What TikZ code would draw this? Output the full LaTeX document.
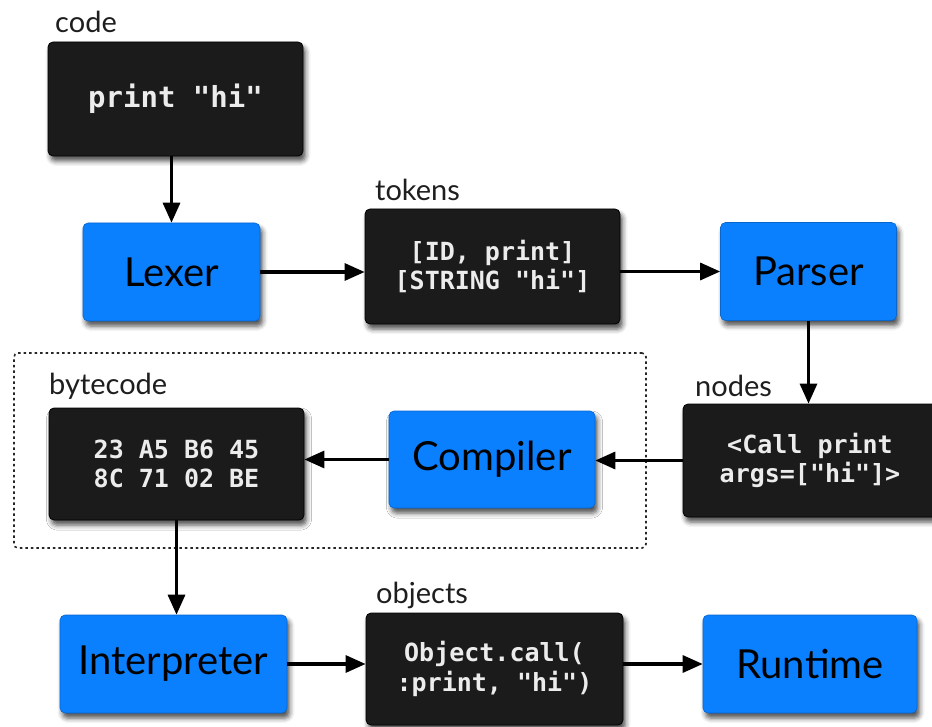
\documentclass[tikz,border=0pt]{standalone}
\usepackage{fontspec}
\setmainfont{Lato}
\newfontfamily\codefont{DejaVu Sans Mono}
\usetikzlibrary{arrows.meta,shadows.blur}

\definecolor{stageblue}{HTML}{0A80FF}
\definecolor{datafill}{HTML}{1B1B1B}
\definecolor{datatext}{HTML}{ECECEC}
\definecolor{labelink}{HTML}{1E1E1E}

\tikzset{
  boxshadow/.style={blur shadow={shadow xshift=2.5pt, shadow yshift=-5pt,
      shadow blur radius=5pt, shadow opacity=70}},
  stage/.style={draw=stageblue!80!black, line width=0.6pt, fill=stageblue,
      rounded corners=5pt, boxshadow, text=black,
      font=\fontsize{40}{44}\selectfont, inner sep=0pt},
  data/.style={draw=black, line width=0.8pt, fill=datafill,
      rounded corners=5pt, boxshadow, text=datatext, align=center,
      font=\codefont\bfseries\fontsize{25}{29.5}\selectfont, inner sep=0pt},
  tag/.style={anchor=base west, inner sep=0pt, text=labelink,
      font=\fontsize{29}{32}\selectfont},
  flow/.style={line width=3.2pt, -{Triangle[length=20pt,width=17pt]}},
  groupbox/.style={draw=black!85, line width=1.6pt, dash pattern=on 2.5pt off 3pt,
      rounded corners=4pt, fill=white},
}

\begin{document}
\begin{tikzpicture}[x=1pt, y=-1pt]
  \useasboundingbox (0,0) rectangle (932,727);
  \clip (0,0) rectangle (932,727);

  % compiler stage grouping
  \node[groupbox, minimum width=632pt, minimum height=195pt] (group) at (330,450.5) {};

  % data artefacts
  \node[data, minimum width=255pt, minimum height=114pt,
        font=\codefont\bfseries\fontsize{29}{32}\selectfont] (code) at (175.5,99) {print "hi"};
  \node[data, minimum width=255pt, minimum height=115pt] (tokens) at (492.5,266.5)
        {[ID, print]\\{}[STRING "hi"]};
  \node[data, minimum width=254pt, minimum height=113pt] (nodes) at (810,460.5)
        {<Call print\\args=["hi"]>};
  \node[data, minimum width=255pt, minimum height=112pt] (bytecode) at (176.5,464)
        {23 A5 B6 45\\8C 71 02 BE};
  \node[data, minimum width=257pt, minimum height=112pt] (objects) at (494.5,669)
        {Object.call(\\:print, "hi")};

  % processing stages
  \node[stage, minimum width=177pt, minimum height=98pt] (lexer) at (171.5,272) {Lexer};
  \node[stage, minimum width=176pt, minimum height=98pt] (parser) at (808.5,271.5) {Parser};
  \node[stage, minimum width=206pt, minimum height=97pt] (compiler) at (492,459.5) {Compiler};
  \node[stage, minimum width=227pt, minimum height=98pt] (interp) at (173.5,664) {Interpreter};
  \node[stage, minimum width=214pt, minimum height=98pt] (runtime) at (810,664) {Runtime};

  % captions
  \node[tag] (codetag) at (55,33) {code};
  \node[tag] (tokenstag) at (375,201) {tokens};
  \node[tag] (nodestag) at (695,396) {nodes};
  \node[tag] (bytetag) at (49,395) {bytecode};
  \node[tag] (objtag) at (376,603) {objects};

  % pipeline
  \draw[flow] (lexer.north |- code.south) -- (lexer.north);
  \draw[flow] (lexer.east) -- (lexer.east -| tokens.west);
  \draw[flow] (parser.west -| tokens.east) -- (parser.west);
  \draw[flow] (parser.south) -- (parser.south |- nodes.north);
  \draw[flow] (nodes.west) -- (nodes.west -| compiler.east);
  \draw[flow] (compiler.west) -- (compiler.west -| bytecode.east);
  \draw[flow] (bytecode.south) -- (bytecode.south |- interp.north);
  \draw[flow] (interp.east) -- (interp.east -| objects.west);
  \draw[flow] (runtime.west -| objects.east) -- (runtime.west);
\end{tikzpicture}
\end{document}
